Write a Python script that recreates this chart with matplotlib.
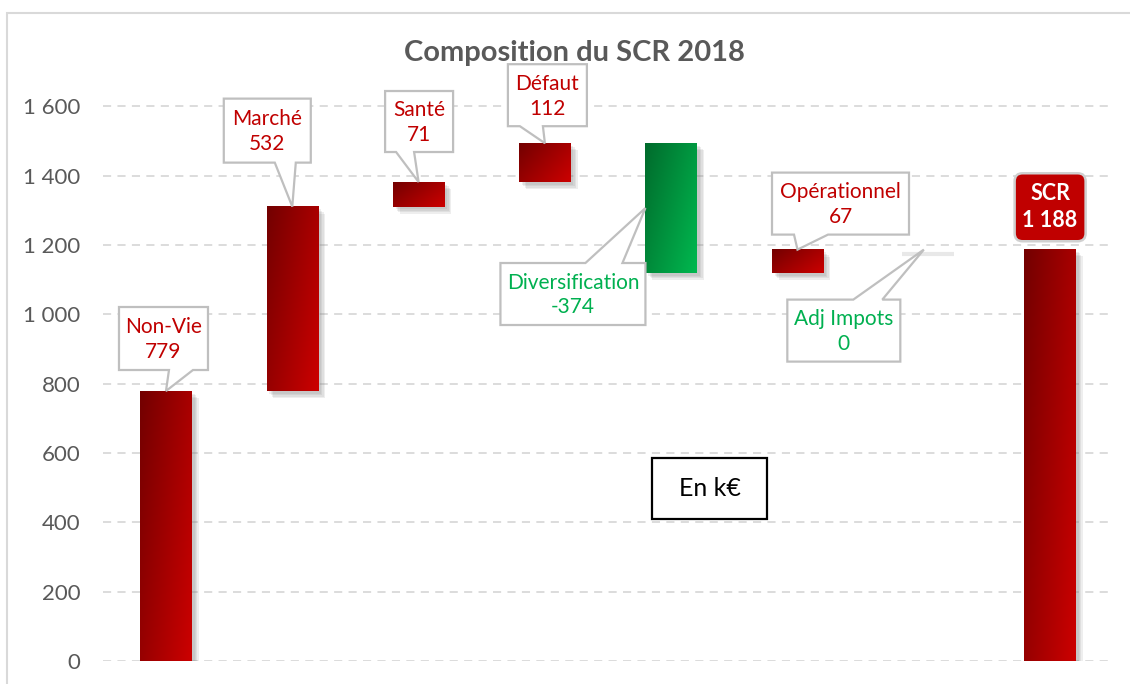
import numpy as np
import matplotlib
matplotlib.use('Agg')
import matplotlib.pyplot as plt
from matplotlib.patches import Polygon, Rectangle, FancyBboxPatch
from matplotlib.colors import LinearSegmentedColormap
from matplotlib.transforms import IdentityTransform
import matplotlib.patheffects as pe

plt.rcParams['font.family'] = ['Lato', 'DejaVu Sans']

# données (k€)
categories = ['Non-Vie', 'Marché', 'Santé', 'Défaut', 'Diversification',
              'Opérationnel', 'Adj Impots', 'SCR']
values = [779, 532, 71, 112, -374, 67, 0, 1188]
value_labels = ['779', '532', '71', '112', '-374', '67', '0', '1 188']
is_total = [False, False, False, False, False, False, False, True]
yticks = [0, 200, 400, 600, 800, 1000, 1200, 1400, 1600]

# mise en page des bulles (pixels, par rapport a la pointe)
bubble_offset = [(-2.5, 52.5), (-25, 76), (0.5, 60.5), (2.5, 48),
                 (-72.5, -86), (43, 46), (-80, -81), (0, 42)]
bubble_size = [(89, 63), (87, 64), (68, 61), (79, 62),
               (145, 62), (137, 62), (113, 62), (71, 68)]
wedge_base = [(5.5, 29.5), (7.5, 28.5), (-23, -5), (-27.5, -4.5),
              (12.5, 49.5), (-46.5, -12.5), (9.5, 38.5), None]

W, H = 1130, 684
RED = '#C00000'
GREEN = '#00B050'
GREY = '#595959'

fig = plt.figure(figsize=(W / 100, H / 100), dpi=100)
ax = fig.add_axes([0.0910, 23 / H, 0.8942, 0.8614])
ax.set_xlim(-0.5, 7.5)
ax.set_ylim(0, 1700)

for s in ax.spines.values():
    s.set_visible(False)
ax.set_xticks([])
ax.set_yticks(yticks)
ax.set_yticklabels([f'{t:,}'.replace(',', ' ') for t in yticks])
ax.tick_params(axis='y', length=0, pad=16, labelsize=16, labelcolor=GREY)
ax.grid(axis='y', color='#D9D9D9', linewidth=1.3, linestyle=(0, (4.5, 3.5)), zorder=0)
ax.set_axisbelow(True)

# cascade
bottoms, tops = [], []
cum = 0
for v, tot in zip(values, is_total):
    if tot:
        bottoms.append(0)
        tops.append(v)
    else:
        bottoms.append(min(cum, cum + v))
        tops.append(max(cum, cum + v))
        cum += v

x = np.arange(len(categories))
width = 0.408
heights = [t - b for t, b in zip(tops, bottoms)]

shadow = [pe.SimplePatchShadow(offset=(o, -o), shadow_rgbFace='#7f7f7f', alpha=0.13)
          for o in (2, 3, 4, 5)]
bars = ax.bar(x, heights, width, bottom=bottoms, facecolor='none', edgecolor='none', zorder=2)
for b in bars:
    b.set_path_effects(shadow)

red_cm = LinearSegmentedColormap.from_list('r', ['#730000', '#CC0000'])
green_cm = LinearSegmentedColormap.from_list('g', ['#006B2C', '#00B84F'])
xf, yf = np.meshgrid(np.linspace(0, 1, 60), np.linspace(0, 1, 120))
grad = 0.6 * xf + 0.4 * yf
for i in range(len(categories)):
    if heights[i] <= 0:
        # barre nulle : seule l'ombre reste visible
        ax.plot([x[i] - width / 2, x[i] + width / 2], [tops[i], tops[i]], color='white',
                lw=3, solid_capstyle='butt', zorder=2,
                path_effects=[pe.SimpleLineShadow(offset=(3, -3), shadow_color='#8c8c8c',
                                                  alpha=0.2)])
        continue
    cm = green_cm if values[i] < 0 else red_cm
    ax.imshow(grad, extent=(x[i] - width / 2, x[i] + width / 2, bottoms[i], tops[i]),
              origin='upper', cmap=cm, aspect='auto', interpolation='bilinear', zorder=3)
ax.set_xlim(-0.5, 7.5)
ax.set_ylim(0, 1700)

ident = IdentityTransform()
fig.canvas.draw()

# bulles
for i, cat in enumerate(categories):
    if values[i] < 0:
        tip = ax.transData.transform((x[i] - width / 2, (bottoms[i] + tops[i]) / 2))
    else:
        tip = ax.transData.transform((x[i], tops[i]))
    cx, cy = tip[0] + bubble_offset[i][0], tip[1] + bubble_offset[i][1]
    bw, bh = bubble_size[i]
    L, R, B, T = cx - bw / 2, cx + bw / 2, cy - bh / 2, cy + bh / 2
    txt = f'{cat}\n{value_labels[i]}'
    if is_total[i]:
        box = FancyBboxPatch((L, B), bw, bh, boxstyle='round,pad=0,rounding_size=8',
                             facecolor=RED, edgecolor='#D0D0D0', lw=1.8,
                             transform=ident, zorder=5, clip_on=False)
        ax.add_patch(box)
        ax.text(cx, cy, txt, transform=ident, ha='center', va='center', color='white',
                fontsize=15.5, fontweight='bold', linespacing=1.35, zorder=6)
        continue
    xa, xb = cx + wedge_base[i][0], cx + wedge_base[i][1]
    if tip[1] < B:
        pts = [(L, T), (R, T), (R, B), (xb, B), tuple(tip), (xa, B), (L, B)]
    else:
        pts = [(L, B), (L, T), (xa, T), tuple(tip), (xb, T), (R, T), (R, B)]
    ax.add_patch(Polygon(pts, closed=True, facecolor='white', edgecolor='#BFBFBF', lw=1.6,
                         transform=ident, zorder=5, clip_on=False, joinstyle='miter'))
    col = GREEN if (values[i] <= 0) else RED
    ax.text(cx, cy - 1, txt, transform=ident, ha='center', va='center', color=col,
            fontsize=15, linespacing=1.3, zorder=6)

# En k€
ax.add_patch(Rectangle((652, H - 519), 115, 61, facecolor='white', edgecolor='black',
                       lw=1.6, transform=ident, zorder=5, clip_on=False))
ax.text(709.5, H - 489, 'En k€', transform=ident, ha='center', va='center',
        fontsize=18, color='black', zorder=6)

fig.text(574 / W, 1 - 53 / H, 'Composition du SCR 2018', ha='center', va='center',
         fontsize=21, fontweight='bold', color=GREY)

# cadre
fig.add_artist(Rectangle((7, -10), W + 20, H - 13 + 10, facecolor='none',
                         edgecolor='#D9D9D9', lw=1.5, transform=ident))

fig.savefig('out.png', dpi=100)
